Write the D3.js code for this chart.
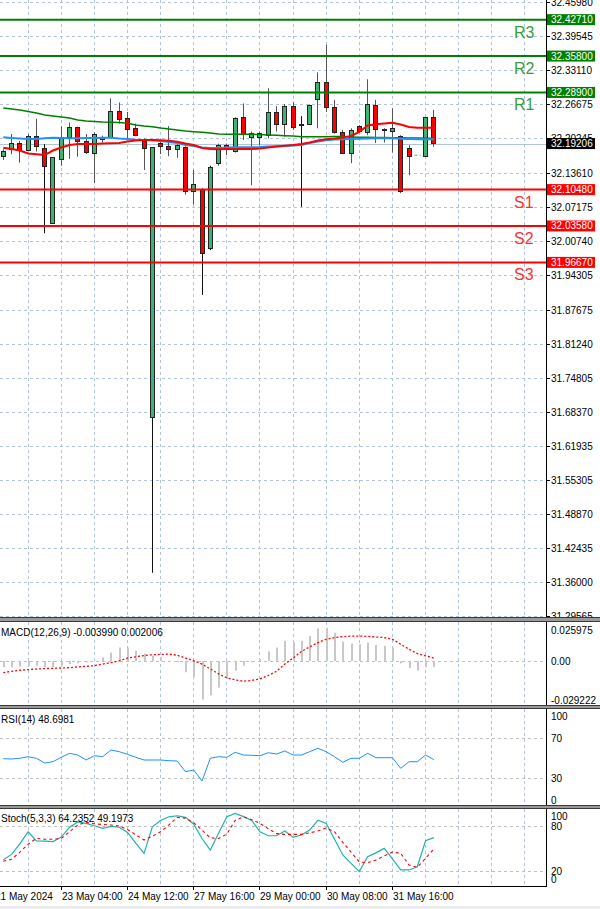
<!DOCTYPE html>
<html><head><meta charset="utf-8">
<script src="https://cdn.jsdelivr.net/npm/d3@7"></script>
<style>body{margin:0;background:#fff;}svg{display:block;font-family:"Liberation Sans",Arial,sans-serif;}</style>
</head><body><svg id="c" width="600" height="909"></svg>
<script>
// ---------- DATA ----------
const opens  = [32.169,32.181,32.194,32.181,32.206,32.184,32.041,32.163,32.204,32.223,32.196,32.175,32.202,32.205,32.254,32.241,32.221,32.197,31.673,32.193,32.187,32.181,32.185,32.101,32.105,31.995,32.155,32.189,32.177,32.242,32.205,32.205,32.208,32.251,32.229,32.264,32.229,32.230,32.277,32.309,32.262,32.214,32.175,32.225,32.215,32.265,32.220,32.216,32.206,32.183,null,32.168,32.242];
const highs  = [32.181,32.210,32.197,32.210,32.239,32.191,32.166,32.225,32.232,32.224,32.210,32.213,32.207,32.278,32.270,32.252,32.230,32.202,32.185,32.199,32.225,32.193,32.187,32.142,32.107,32.150,32.192,32.192,32.242,32.268,32.215,32.215,32.297,32.263,32.267,32.271,32.244,32.266,32.327,32.379,32.275,32.218,32.221,32.227,32.314,32.275,32.221,32.259,32.208,32.189,null,32.242,32.256];
const lows   = [32.161,32.172,32.156,32.179,32.177,32.022,32.041,32.150,32.163,32.167,32.172,32.117,32.194,32.203,32.230,32.202,32.206,32.142,31.378,32.172,32.168,32.165,32.095,32.077,31.905,31.990,32.150,32.170,32.175,32.199,32.113,32.189,32.202,32.215,32.205,32.218,32.072,32.230,32.221,32.252,32.211,32.174,32.155,32.213,32.208,32.193,32.194,32.175,32.098,32.132,null,32.168,32.186];
const closes = [32.178,32.193,32.180,32.207,32.187,32.150,32.166,32.205,32.223,32.196,32.175,32.211,32.205,32.254,32.238,32.221,32.208,32.183,32.185,32.187,32.181,32.189,32.101,32.115,31.984,32.148,32.189,32.186,32.240,32.210,32.212,32.212,32.251,32.229,32.264,32.224,32.229,32.266,32.309,32.261,32.214,32.175,32.218,32.215,32.268,32.219,32.220,32.221,32.101,32.168,null,32.242,32.192];

const maSlow = [32.2595,32.2576,32.2557,32.2528,32.2500,32.2462,32.2443,32.2424,32.2405,32.2367,32.2348,32.2339,32.2329,32.2324,32.2320,32.2305,32.2272,32.2253,32.2240,32.2215,32.2196,32.2177,32.2158,32.2145,32.2134,32.2121,32.2102,32.2096,32.2096,32.2096,32.2096,32.2092,32.2083,32.2077,32.2069,32.2064,32.2050,32.2050,32.2050,32.2050,32.2054,32.2054,32.2045,32.2039,32.2039,32.2035,32.2035,32.2032,32.2032,32.2026,32.2026,32.2020,32.2020];
const maMid  = [32.2039,32.2026,32.2016,32.2007,32.2007,32.2020,32.2032,32.2026,32.2020,32.2020,32.2026,32.2026,32.2032,32.2032,32.2016,32.2007,32.1994,32.1988,32.1982,32.1969,32.1950,32.1931,32.1893,32.1874,32.1846,32.1836,32.1836,32.1846,32.1849,32.1849,32.1849,32.1855,32.1865,32.1868,32.1874,32.1884,32.1893,32.1931,32.1960,32.1982,32.1997,32.2001,32.2007,32.2012,32.2016,32.2020,32.2020,32.2020,32.2012,32.2007,32.2001,32.2001,32.2001];
const maFast = [32.1842,32.1817,32.1789,32.1732,32.1717,32.1703,32.1789,32.1846,32.1893,32.1912,32.1912,32.1912,32.1922,32.1926,32.1931,32.1960,32.1979,32.1988,32.1988,32.1982,32.1975,32.1956,32.1922,32.1893,32.1836,32.1817,32.1812,32.1817,32.1817,32.1817,32.1817,32.1827,32.1846,32.1865,32.1880,32.1893,32.1912,32.1941,32.1979,32.2001,32.2016,32.2035,32.2064,32.2140,32.2263,32.2286,32.2301,32.2316,32.2282,32.2234,32.2221,32.2221,32.2221];

const levelNames  = ["R3","R2","R1","S1","S2","S3"];
const levelValues = [32.42710,32.35800,32.28900,32.10480,32.03580,31.96670];
const bidPrice = 32.19206;
const markerPrice = 32.170, markerIndex = 50;

const priceTicks = ["32.45980","32.39545","32.33110","32.26675","32.20245","32.13610","32.07175","32.00740","31.94305","31.87675","31.81240","31.74805","31.68370","31.61935","31.55305","31.48870","31.42435","31.36000","31.29565"];

const macdHist = [-0.0041,-0.0041,-0.0037,-0.0031,-0.0031,-0.0041,-0.0041,-0.0031,-0.0020,-0.0015,-0.0009,0.0002,0.0024,0.0057,0.0090,0.0090,0.0068,0.0050,0.0035,0.0028,0.0002,-0.0009,-0.0074,-0.0107,-0.0256,-0.0228,-0.0177,-0.0118,-0.0064,-0.0031,-0.0009,0.0013,0.0064,0.0090,0.0134,0.0123,0.0134,0.0166,0.0217,0.0221,0.0188,0.0129,0.0116,0.0112,0.0123,0.0107,0.0101,0.0090,-0.0015,-0.0046,-0.0064,-0.0041,-0.00399];
const macdSignal = [-0.0077,-0.0068,-0.0061,-0.0057,-0.0053,-0.0050,-0.0048,-0.0046,-0.0044,-0.0039,-0.0035,-0.0031,-0.0020,-0.0011,0.0002,0.0020,0.0028,0.0037,0.0042,0.0044,0.0046,0.0039,0.0020,0.0002,-0.0020,-0.0053,-0.0085,-0.0112,-0.0125,-0.0134,-0.0129,-0.0118,-0.0096,-0.0068,-0.0020,0.0020,0.0064,0.0094,0.0123,0.0145,0.0156,0.0162,0.0166,0.0166,0.0164,0.0160,0.0156,0.0145,0.0112,0.0079,0.0050,0.0035,0.0020];
const macdTicks = ["0.025975","0.00","-0.029222"];
const macdTickValues = [0.025975,0,-0.029222];

const rsi = [49.6,49.3,50,51.6,50,45.3,46.6,51,55,53.3,48.3,52.6,51.6,58.3,56.6,54,51,48.3,48.3,48.3,47.6,47.3,36.6,38.3,27.3,50,51.6,51,56,53.3,53,52.6,55.6,54.3,57.3,53.3,53.3,56.6,60,56.6,51.6,46,50,50,55,50.6,50.6,50.6,40,46.6,46.6,53.3,48.7];
const rsiTicks = [100,70,30,0];

const stochMain = [35,42,56,72,60,59.5,59,65,78,85,83,80,76.4,79,78,71,57,43.4,78.6,87,91.8,93.2,91,82,63,47.8,70,92,96.3,92,87,72,66.7,66.7,72.9,64.5,67.6,74.2,87.4,83,62,41.2,30,19.2,39,44,50,36,21.4,21.4,25.7,60,64.2];
const stochSignal = [33,35.5,45,55.5,63.2,62,62,63.2,72,81,84.4,82.5,81.5,81,79.5,75,68,61,66,72,81,91,90,84,74,64,63,69,87,91.8,88,83,76,69.5,68.5,68.5,68.5,70.5,73,77,72,58,45,32,31,34.6,40,45,43.4,28,25,36.8,49.2];
const stochTicks = [100,80,20,0];

const timeLabels = ["21 May 2024","23 May 04:00","24 May 12:00","27 May 16:00","29 May 00:00","30 May 08:00","31 May 16:00"];
const timeLabelIndex = [-1,7,15,23,31,39,47];

// ---------- LAYOUT ----------
const AX = 546;
const svg = d3.select("#c");
svg.append("rect").attr("width",600).attr("height",909).attr("fill","#fff");
const x = d3.scaleLinear().domain([0,52]).range([3.3,433.86]);
const cx = i => Math.floor(x(i)) + 0.5;
const panels = {main:[0,617], macd:[622,705], rsi:[709,805], stoch:[809,886]};
const yP = d3.scaleLinear().domain([31.29565,32.45980]).range([616.2,2.4]);
const yM = d3.scaleLinear().domain([-0.029222,0.025975]).range([705,622]);
const yR = d3.scaleLinear().domain([0,100]).range([808.3,708.3]);
const yS = d3.scaleLinear().domain([0,100]).range([886.1,810.6]);
const gridColor = "#b0c4de";

const defs = svg.append("defs");
Object.entries(panels).forEach(([k,[t,b]])=>{
  defs.append("clipPath").attr("id","clip-"+k).append("rect").attr("x",0).attr("y",t).attr("width",AX).attr("height",b-t);
});
const layer = k => svg.append("g").attr("clip-path","url(#clip-"+k+")");

// vertical grid
const gridIdx = d3.range(3,64,4);
Object.entries(panels).forEach(([k,[t,b]])=>{
  layer(k).selectAll("line").data(gridIdx).join("line")
    .attr("x1",d=>cx(d)).attr("x2",d=>cx(d)).attr("y1",t).attr("y2",b)
    .attr("stroke",gridColor).attr("stroke-dasharray","3,3");
});

// ---------- MAIN ----------
const gm = layer("main");
gm.selectAll("line.hg").data(priceTicks).join("line").attr("class","hg")
  .attr("x1",0).attr("x2",AX).attr("y1",d=>Math.round(yP(+d))+0.5).attr("y2",d=>Math.round(yP(+d))+0.5)
  .attr("stroke",gridColor).attr("stroke-dasharray","3,3");
gm.append("line").attr("x1",0).attr("x2",AX).attr("y1",Math.round(yP(bidPrice))+0.5).attr("y2",Math.round(yP(bidPrice))+0.5)
  .attr("stroke","#b0c4de").attr("stroke-width",1);

const idx = d3.range(opens.length).filter(i=>opens[i]!==null);
// wicks
gm.selectAll("line.wick").data(idx).join("line").attr("class","wick")
  .attr("x1",cx).attr("x2",cx).attr("y1",i=>yP(highs[i])).attr("y2",i=>yP(lows[i]))
  .attr("stroke",i=>(highs[i]-lows[i]>0.15)?"#111":"#555").attr("stroke-width",1);
// bodies
gm.selectAll("rect.body").data(idx).join("rect").attr("class","body")
  .attr("x",i=>cx(i)-2).attr("width",4)
  .attr("y",i=>Math.round(yP(Math.max(opens[i],closes[i])))+0.5)
  .attr("height",i=>Math.max(1,Math.round(Math.abs(yP(opens[i])-yP(closes[i])))))
  .attr("fill",i=>Math.abs(closes[i]-opens[i])<0.0015?"#000":(closes[i]>opens[i]?"#3cb371":"#ff0000"))
  .attr("stroke","#222").attr("stroke-width",1);
gm.append("line").attr("x1",cx(markerIndex)-3).attr("x2",cx(markerIndex)+3)
  .attr("y1",yP(markerPrice)).attr("y2",yP(markerPrice))
  .attr("stroke","#32cd32").attr("stroke-dasharray","3,2");

const line = (ys,data)=>d3.line().x((d,i)=>x(i)).y(d=>ys(d))(data);
gm.append("path").attr("d",line(yP,maSlow)).attr("fill","none").attr("stroke","#008000").attr("stroke-width",1.5);
gm.append("path").attr("d",line(yP,maMid)).attr("fill","none").attr("stroke","#1e90ff").attr("stroke-width",2);
gm.append("path").attr("d",line(yP,maFast)).attr("fill","none").attr("stroke","#ff0000").attr("stroke-width",2);

// levels
levelValues.forEach((v,k)=>{
  const isR = levelNames[k][0]==="R";
  gm.append("line").attr("x1",0).attr("x2",AX).attr("y1",yP(v)).attr("y2",yP(v))
    .attr("stroke",isR?"#008000":"#ff0000").attr("stroke-width",2);
  svg.append("text").attr("x",514).attr("y",yP(v)+18).text(levelNames[k])
    .attr("font-size",16).attr("fill",isR?"#3a9d3a":"#ff3030");
});

// ---------- AXIS (price) ----------
const ax = svg.append("g");
ax.append("line").attr("x1",AX+0.5).attr("x2",AX+0.5).attr("y1",0).attr("y2",886).attr("stroke","#000");
priceTicks.forEach(t=>{
  const y = Math.round(yP(+t))+0.5;
  ax.append("line").attr("x1",AX).attr("x2",AX+4).attr("y1",y).attr("y2",y).attr("stroke","#000");
  ax.append("text").attr("x",551).attr("y",y).attr("dy","0.35em").attr("font-size",10).text(t);
});
levelValues.forEach((v,k)=>{
  const isR = levelNames[k][0]==="R";
  const y = yP(v);
  ax.append("rect").attr("x",AX+1).attr("y",y-5.5).attr("width",48).attr("height",11).attr("fill",isR?"#008000":"#ff0000");
  ax.append("text").attr("x",551).attr("y",y).attr("dy","0.35em").attr("font-size",10).attr("fill","#fff").text(v.toFixed(5));
});
{
  const y = yP(bidPrice);
  ax.append("rect").attr("x",AX+1).attr("y",y-5.5).attr("width",48).attr("height",11).attr("fill","#000");
  ax.append("text").attr("x",551).attr("y",y).attr("dy","0.35em").attr("font-size",10).attr("fill","#fff").text(bidPrice.toFixed(5));
}

// ---------- MACD ----------
const gmac = layer("macd");
gmac.append("line").attr("x1",0).attr("x2",AX).attr("y1",Math.round(yM(0))+0.5).attr("y2",Math.round(yM(0))+0.5)
  .attr("stroke",gridColor).attr("stroke-dasharray","3,3");
gmac.selectAll("rect").data(macdHist).join("rect")
  .attr("x",(d,i)=>Math.floor(x(i))).attr("width",2)
  .attr("y",d=>Math.min(yM(d),yM(0))).attr("height",d=>Math.abs(yM(d)-yM(0)))
  .attr("fill","#c8c8c8");
gmac.append("path").attr("d",line(yM,macdSignal)).attr("fill","none").attr("stroke","#ff0000").attr("stroke-width",1.3).attr("stroke-dasharray","2,2");
svg.append("text").attr("x",1).attr("y",636).attr("font-size",10).text("MACD(12,26,9) -0.003990 0.002006");
const macdLabelY = [630,662,700];
macdTicks.forEach((t,k)=>{
  const y = k===1 ? Math.round(yM(macdTickValues[k]))+0.5 : macdLabelY[k];
  ax.append("text").attr("x",551).attr("y",y).attr("dy","0.35em").attr("font-size",10).text(t);
});

// ---------- RSI ----------
const gr = layer("rsi");
[70,30].forEach(v=>gr.append("line").attr("x1",0).attr("x2",AX).attr("y1",Math.round(yR(v))+0.5).attr("y2",Math.round(yR(v))+0.5)
  .attr("stroke","#c0c0c0").attr("stroke-dasharray","3,3"));
gr.append("path").attr("d",line(yR,rsi)).attr("fill","none").attr("stroke","#1e90ff").attr("stroke-width",1);
svg.append("text").attr("x",1).attr("y",723).attr("font-size",10).text("RSI(14) 48.6981");
const rsiLabelY = {100:716,70:738.5,30:778.5,0:800};
rsiTicks.forEach(v=>ax.append("text").attr("x",551).attr("y",rsiLabelY[v]).attr("dy","0.35em").attr("font-size",10).text(v));

// ---------- STOCH ----------
const gs = layer("stoch");
[80,20].forEach(v=>gs.append("line").attr("x1",0).attr("x2",AX).attr("y1",Math.round(yS(v))+0.5).attr("y2",Math.round(yS(v))+0.5)
  .attr("stroke","#c0c0c0").attr("stroke-dasharray","3,3"));
gs.append("path").attr("d",line(yS,stochMain)).attr("fill","none").attr("stroke","#20b2aa").attr("stroke-width",1.2);
gs.append("path").attr("d",line(yS,stochSignal)).attr("fill","none").attr("stroke","#ff0000").attr("stroke-width",1.1).attr("stroke-dasharray","3,3");
svg.append("text").attr("x",1).attr("y",822).attr("font-size",10).text("Stoch(5,3,3) 64.2352 49.1973");
const stochLabelY = {100:816,80:826,20:871,0:879.5};
stochTicks.forEach(v=>ax.append("text").attr("x",551).attr("y",stochLabelY[v]).attr("dy","0.35em").attr("font-size",10).text(v));

// ---------- SEPARATORS ----------
[[617,622],[705,709],[805,809]].forEach(([a,b])=>{
  svg.append("rect").attr("x",0).attr("y",a).attr("width",600).attr("height",b-a).attr("fill","#9a9a9a");
  svg.append("line").attr("x1",0).attr("x2",600).attr("y1",a+0.5).attr("y2",a+0.5).attr("stroke","#3a3a3a");
  svg.append("line").attr("x1",0).attr("x2",600).attr("y1",b-0.5).attr("y2",b-0.5).attr("stroke","#3a3a3a");
});
svg.append("line").attr("x1",0).attr("x2",AX+1).attr("y1",886.5).attr("y2",886.5).attr("stroke","#000");

// ---------- TIME AXIS ----------
timeLabels.forEach((t,k)=>{
  const i = timeLabelIndex[k];
  const xx = cx(i);
  if (k>0) svg.append("line").attr("x1",xx).attr("x2",xx).attr("y1",886).attr("y2",890).attr("stroke","#000");
  svg.append("text").attr("x",k>0?xx+0.5:xx-0.5).attr("y",899.5).attr("font-size",10).text(t);
});
svg.append("rect").attr("x",0).attr("y",906).attr("width",600).attr("height",3).attr("fill","#ececec");
</script></body></html>
